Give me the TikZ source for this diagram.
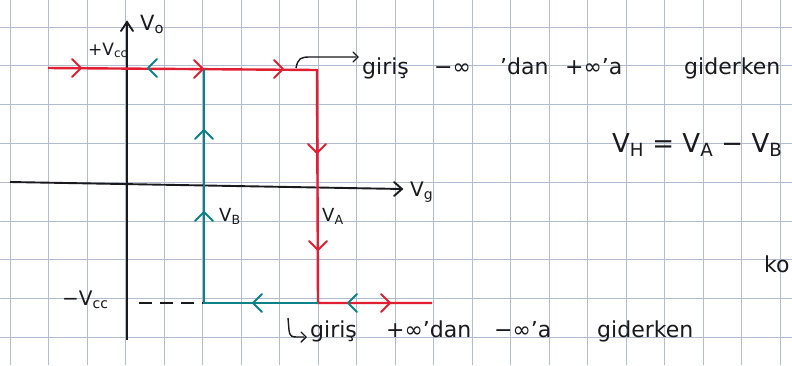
\documentclass[tikz,border=0pt]{standalone}
\usepackage{fontspec}
\setmainfont{DejaVu Sans}
\usetikzlibrary{calc}
\definecolor{penred}{RGB}{225,30,50}
\definecolor{penteal}{RGB}{10,130,135}
\definecolor{penblack}{RGB}{25,25,30}
\definecolor{gridc}{RGB}{178,188,208}
\tikzset{
  gridline/.style={draw=gridc, line width=0.8pt},
  axisline/.style={draw=penblack, line width=1.9pt},
  redline/.style={draw=penred, line width=2.4pt},
  tealline/.style={draw=penteal, line width=2.4pt},
  chev/.pic={\draw[line width=2pt, line cap=round, line join=round] (-9,-9) -- (0,0) -- (-9,9);},
  smallchev/.pic={\draw[line width=1.4pt, line cap=round] (-5,-5) -- (0,0) -- (-5,5);},
  lbl/.style={anchor=base west, inner sep=0pt, text=penblack},
  hand/.style={lbl, font=\fontsize{22}{26}\selectfont},
}
\begin{document}
\begin{tikzpicture}[x=1pt,y=-1pt]
\useasboundingbox (0,0) rectangle (792,365);
\fill[white] (0,0) rectangle (792,365);
% grid paper
\foreach \k in {0,...,20} {\draw[gridline] ({10+38.5*\k},0) -- ({10+38.5*\k},365);}
\foreach \k in {0,...,8} {\draw[gridline] (0,{27+38.8*\k}) -- (792,{27+38.8*\k});}
% key points
\coordinate (L) at (48,68);
\coordinate (TB) at (204,69);
\coordinate (TA) at (317,70);
\coordinate (BB) at (204,303);
\coordinate (BA) at (318,303);
\coordinate (R) at (432,303);
\coordinate (D) at (139,303);
\coordinate (yb) at (127,340);
\coordinate (yt) at (127,22);
\coordinate (xl) at (10,182);
\coordinate (xr) at (402,189);
% axes
\draw[axisline] (yb) -- (yt);
\draw[axisline, line cap=round] ($(yt)+(-6,9)$) -- (yt) -- ($(yt)+(6,9)$);
\draw[axisline] (xl) -- (xr);
\draw[axisline, line cap=round] ($(xr)+(-8,-7)$) -- (xr) -- ($(xr)+(-8,7)$);
% dashed -Vcc level
\draw[penblack, line width=1.8pt, dash pattern=on 13pt off 8pt] (D) -- (BB);
% curve
\draw[redline] (L) -- (TA) -- (BA) -- (R);
\draw[tealline] (BA) -- (BB) -- (TB);
% direction marks
\pic[penred] at (81,68) {chev};
\pic[penteal, rotate=180] at (148,68) {chev};
\pic[penred] at (203,69) {chev};
\pic[penred] at (283,69) {chev};
\pic[penred, rotate=-90] at (317,153) {chev};
\pic[penred, rotate=-90] at (318,250) {chev};
\pic[penteal, rotate=90] at (204,130) {chev};
\pic[penteal, rotate=90] at (204,212) {chev};
\pic[penteal, rotate=180] at (253,303) {chev};
\pic[penteal, rotate=180] at (348,303) {chev};
\pic[penred] at (390,303) {chev};
% axis and level labels
\node[lbl, font=\fontsize{21}{24}\selectfont] (vo) at (140,30) {V\textsubscript{o}};
\node[lbl, font=\fontsize{17}{20}\selectfont] (vcc) at (88,55) {+V\textsubscript{cc}};
\node[lbl, font=\fontsize{20}{24}\selectfont] (vg) at (410,196) {V\textsubscript{g}};
\node[lbl, font=\fontsize{18}{22}\selectfont] (vb) at (219,221) {V\textsubscript{B}};
\node[lbl, font=\fontsize{18}{22}\selectfont] (va) at (322,221) {V\textsubscript{A}};
\node[lbl, font=\fontsize{20}{24}\selectfont] (mvcc) at (62,305) {−V\textsubscript{cc}};
% upper annotation
\draw[penblack, line width=1.4pt] (296,68) .. controls (298,58) and (301,57) .. (310,57) -- (356,57);
\pic[penblack] at (358,57) {smallchev};
\node[hand] (t1) at (362,74) {giriş};
\node[hand] (t2) at (434,74) {−∞};
\node[hand] (t3) at (500,74) {'dan};
\node[hand] (t4) at (565,74) {+∞'a};
\node[hand] (t5) at (684,74) {giderken};
% hysteresis voltage
\node[lbl, font=\fontsize{26}{30}\selectfont] (vh) at (612,152) {V\textsubscript{H} = V\textsubscript{A} − V\textsubscript{B}};
\node[hand] (ko) at (764,272) {ko};
% lower annotation
\draw[penblack, line width=1.4pt] (288,318) -- (289,330) .. controls (290,337) and (292,337) .. (298,337) -- (304,337);
\pic[penblack] at (306,337) {smallchev};
\node[hand] (b1) at (310,337) {giriş};
\node[hand] (b2) at (386,337) {+∞'dan};
\node[hand] (b3) at (494,337) {−∞'a};
\node[hand] (b4) at (597,337) {giderken};
\end{tikzpicture}
\end{document}
